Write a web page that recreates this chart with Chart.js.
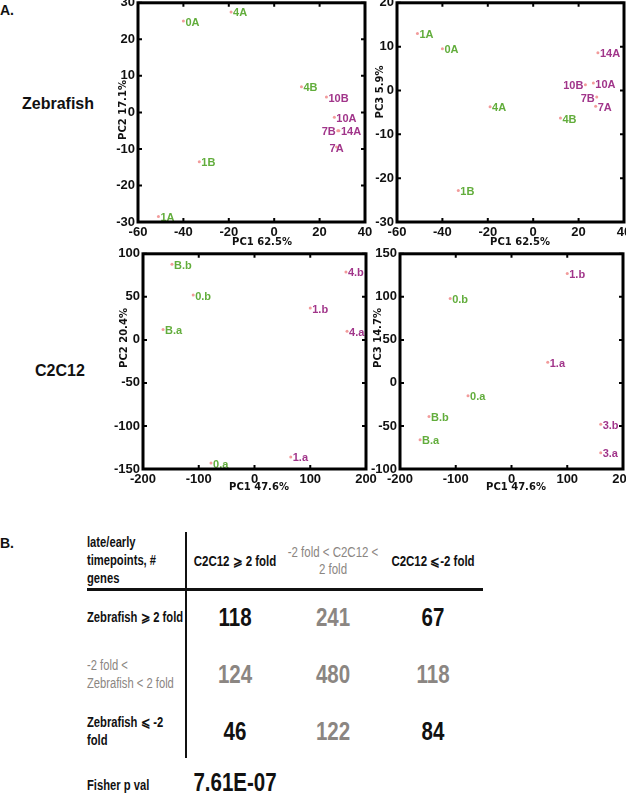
<!DOCTYPE html>
<html>
<head>
<meta charset="utf-8">
<script src="https://cdn.jsdelivr.net/npm/chart.js@4.4.0/dist/chart.umd.min.js"></script>
<style>
  body { margin: 0; width: 626px; height: 794px; position: relative; overflow: hidden; background: #fff; }
  canvas.pca { position: absolute; }
  .side { position: absolute; font: bold 16px "Liberation Sans", Arial, sans-serif; color: #111; white-space: nowrap; }
  .panel { position: absolute; font: bold 14px "Liberation Sans", Arial, sans-serif; color: #111; }
  /* no narrow face installed, so squeeze Liberation Sans to look like Arial Narrow */
  .tbl { position: absolute; font-family: "Liberation Sans", Arial, sans-serif;
         font-weight: bold; color: #111; white-space: pre; line-height: 18px; }
  .lbl { font-size: 14px; transform-origin: 0 50%; transform: translateY(-50%) scaleX(0.8); }
  .head { font-size: 14px; line-height: 17px; text-align: center; transform: translate(-50%, -50%) scaleX(0.82); }
  .num { font-size: 25px; text-align: center; line-height: 28px; transform: translate(-50%, -50%) scaleX(0.82); }
  .grey { color: #8b8682; }
  .thin { font-weight: normal; }
  .rule { position: absolute; background: #111; }
</style>
</head>
<body>
<div class="panel" style="left:0;top:2px">A.</div>
<div class="panel" style="left:0;top:535px">B.</div>
<div class="side" style="left:22px;top:95px">Zebrafish</div>
<div class="side" style="left:35px;top:362px">C2C12</div>
<div id="table"></div>
<script>
// ---- PCA sample coordinates ----
const zfSamples = ['0A', '1A', '1B', '4A', '4B', '7A', '7B', '10A', '10B', '14A'];
const zfLate    = [false, false, false, false, false, true, true, true, true, true];
const zfPC1 = [-40, -51, -33, -19, 12, 27.5, 28, 26.5, 23, 28.5];
const zfPC2 = [25, -28.5, -13.5, 27.5, 7, -9.5, -5, -1.3, 4.2, -5];
const zfPC3 = [9.5, 13, -22.8, -3.7, -6.3, -3.6, -1.5, 1.7, 1.3, 8.6];

const c2Samples = ['B.a', 'B.b', '0.a', '0.b', '1.a', '1.b', '3.a', '3.b', '4.a', '4.b'];
const c2Late    = [false, false, false, false, true, true, true, true, true, true];
const c2PC1 = [-164, -148, -78, -110, 65, 100, 160, 160, 166, 164];
const c2PC2 = [12, 88, -143, 52, -136, 37, null, null, 10, 79];
const c2PC3 = [-66, -39, -15, 98, 24, 127, -81, -48, null, null];

// tick labels
const zfPC1Ticks = [-60, -40, -20, 0, 20, 40];
const zfPC2Ticks = [-30, -20, -10, 0, 10, 20, 30];
const zfPC3Ticks = [-30, -20, -10, 0, 10, 20];
const c2PC1Ticks = [-200, -100, 0, 100, 200];
const c2PC2Ticks = [-150, -100, -50, 0, 50, 100];
const c2PC3Ticks = [-100, -50, 0, 50, 100, 150];

// ---- panel B table ----
const colHeads = ['C2C12 \u2A7E 2 fold', '-2 fold < C2C12 <\n2 fold', 'C2C12 \u2A7D-2 fold'];
const rowHeads = ['Zebrafish \u2A7E 2 fold', '-2 fold <\nZebrafish < 2 fold', 'Zebrafish \u2A7D -2\nfold'];
const geneCounts = [
    [118, 241, 67],
    [124, 480, 118],
    [46, 122, 84]
];
const cornerHead = 'late/early\ntimepoints, #\ngenes';
const fisherLabel = 'Fisher p val';
const fisherP = '7.61E-07';

const GREEN = '#62ad3c';
const PURPLE = '#a1358a';
const MARK = '#f29b9b';

// draws the MATLAB-like box with inward ticks on all four sides
const boxTicks = {
    id: 'boxTicks',
    afterDraw(chart) {
        const { ctx, chartArea: a, scales: { x, y } } = chart;
        ctx.save();
        ctx.strokeStyle = '#000';
        ctx.lineWidth = 2;
        ctx.beginPath();
        x.ticks.forEach(t => {
            const px = x.getPixelForValue(t.value);
            ctx.moveTo(px, a.bottom); ctx.lineTo(px, a.bottom - 4);
            ctx.moveTo(px, a.top); ctx.lineTo(px, a.top + 4);
        });
        y.ticks.forEach(t => {
            const py = y.getPixelForValue(t.value);
            ctx.moveTo(a.left, py); ctx.lineTo(a.left + 4, py);
            ctx.moveTo(a.right, py); ctx.lineTo(a.right - 4, py);
        });
        ctx.stroke();
        ctx.lineWidth = 3;
        ctx.strokeRect(a.left, a.top, a.right - a.left, a.bottom - a.top);
        ctx.restore();
    }
};

// sample names next to each point
const sampleLabels = {
    id: 'sampleLabels',
    afterDatasetsDraw(chart, args, opts) {
        const ctx = chart.ctx;
        const meta = chart.getDatasetMeta(0);
        const ds = chart.data.datasets[0];
        ctx.save();
        ctx.font = 'bold 11px "Liberation Sans", Arial, sans-serif';
        ctx.textBaseline = 'middle';
        meta.data.forEach((pt, i) => {
            const name = ds.data[i].name;
            const where = (opts.anchor && opts.anchor[name]) || 'right';
            ctx.fillStyle = ds.data[i].late ? PURPLE : GREEN;
            let tx = pt.x + 2;
            ctx.textAlign = 'left';
            if (where === 'left') { tx = pt.x - 2; ctx.textAlign = 'right'; }
            if (where === 'center') { tx = pt.x; ctx.textAlign = 'center'; }
            ctx.fillText(name, tx, pt.y + 1.5);
        });
        ctx.restore();
    }
};

// axis titles placed where MATLAB put them
const pcTitles = {
    id: 'pcTitles',
    afterDraw(chart, args, opts) {
        const ctx = chart.ctx;
        ctx.save();
        ctx.fillStyle = '#111';
        ctx.font = 'bold 10px "DejaVu Sans", sans-serif';
        ctx.textAlign = 'center';
        ctx.textBaseline = 'middle';
        ctx.fillText(opts.xText, opts.xAt[0], opts.xAt[1]);
        ctx.translate(opts.yAt[0], opts.yAt[1]);
        ctx.rotate(-Math.PI / 2);
        ctx.fillText(opts.yText, 0, 0);
        ctx.restore();
    }
};

function pcaPlot(box, names, late, xs, ys, xTicks, yTicks, titles, anchor) {
    const padL = 45, padT = 10, padR = 14, padB = 32;
    const canvas = document.createElement('canvas');
    canvas.className = 'pca';
    canvas.width = box.R - box.L + padL + padR;
    canvas.height = box.B - box.T + padT + padB;
    const left = box.L - padL, top = box.T - padT;
    canvas.style.left = left + 'px';
    canvas.style.top = top + 'px';
    document.body.appendChild(canvas);

    const points = [];
    names.forEach((n, i) => {
        if (ys[i] === null) return;
        points.push({ x: xs[i], y: ys[i], name: n, late: late[i] });
    });

    const tickFont = { family: '"Liberation Sans", Arial, sans-serif', size: 13, weight: 'bold' };
    const fixTicks = arr => scale => { scale.ticks = arr.map(v => ({ value: v })); };

    return new Chart(canvas.getContext('2d'), {
        type: 'scatter',
        data: {
            datasets: [{
                data: points,
                pointRadius: 1.5,
                pointBackgroundColor: MARK,
                pointBorderWidth: 0,
                clip: false
            }]
        },
        options: {
            responsive: false,
            animation: false,
            events: [],
            layout: { padding: { top: padT, right: padR, bottom: 12, left: 0 } },
            plugins: {
                legend: { display: false },
                tooltip: { enabled: false },
                sampleLabels: { anchor: anchor },
                pcTitles: {
                    xText: titles.x, yText: titles.y,
                    xAt: [titles.xAt[0] - left, titles.xAt[1] - top],
                    yAt: [titles.yAt[0] - left, titles.yAt[1] - top]
                }
            },
            scales: {
                x: {
                    type: 'linear',
                    min: xTicks[0], max: xTicks[xTicks.length - 1],
                    afterBuildTicks: fixTicks(xTicks),
                    afterFit: s => { s.height = 20; },
                    grid: { display: false, drawTicks: false },
                    border: { display: false },
                    ticks: { font: tickFont, color: '#111', padding: 3, maxRotation: 0, autoSkip: false }
                },
                y: {
                    type: 'linear',
                    min: yTicks[0], max: yTicks[yTicks.length - 1],
                    afterBuildTicks: fixTicks(yTicks),
                    afterFit: s => { s.width = padL; },
                    grid: { display: false, drawTicks: false },
                    border: { display: false },
                    ticks: { font: tickFont, color: '#111', padding: 3, autoSkip: false }
                }
            }
        },
        plugins: [boxTicks, sampleLabels, pcTitles]
    });
}

pcaPlot({ L: 138, T: 2, R: 365, B: 222 }, zfSamples, zfLate, zfPC1, zfPC2, zfPC1Ticks, zfPC2Ticks,
    { x: 'PC1 62.5%', y: 'PC2 17.1%', xAt: [262, 242], yAt: [123, 110] },
    { '7B': 'left', '7A': 'center' });
pcaPlot({ L: 397, T: 2, R: 624, B: 222 }, zfSamples, zfLate, zfPC1, zfPC3, zfPC1Ticks, zfPC3Ticks,
    { x: 'PC1 62.5%', y: 'PC3 5.9%', xAt: [520, 242], yAt: [380, 92] },
    { '10B': 'left', '7B': 'left' });
pcaPlot({ L: 143, T: 253, R: 366, B: 469 }, c2Samples, c2Late, c2PC1, c2PC2, c2PC1Ticks, c2PC2Ticks,
    { x: 'PC1 47.6%', y: 'PC2 20.4%', xAt: [259, 487], yAt: [124, 338] }, {});
pcaPlot({ L: 400, T: 253, R: 623, B: 469 }, c2Samples, c2Late, c2PC1, c2PC3, c2PC1Ticks, c2PC3Ticks,
    { x: 'PC1 47.6%', y: 'PC3 14.7%', xAt: [516, 487], yAt: [378, 338] }, {});

// ---- build the table of panel B ----
const table = document.getElementById('table');
const colX = [235, 333, 433];
const rowY = [617, 674, 731];
const labelX = 87;

function addDiv(cls, text, x, y) {
    const d = document.createElement('div');
    d.className = 'tbl ' + cls;
    d.textContent = text;
    d.style.left = x + 'px';
    d.style.top = y + 'px';
    table.appendChild(d);
    return d;
}

addDiv('lbl', cornerHead, labelX, 560);
colHeads.forEach((h, j) => addDiv('head' + (j === 1 ? ' grey thin' : ''), h, colX[j], 561));
rowHeads.forEach((h, i) => addDiv('lbl' + (i === 1 ? ' grey thin' : ''), h, labelX, rowY[i]));
geneCounts.forEach((row, i) => row.forEach((v, j) => {
    const grey = i === 1 || j === 1;
    addDiv('num' + (grey ? ' grey' : ''), String(v), colX[j], rowY[i]);
}));
addDiv('lbl', fisherLabel, labelX, 785);
addDiv('num', fisherP, 235, 782);

const vline = document.createElement('div');
vline.className = 'rule';
Object.assign(vline.style, { left: '185px', top: '532px', width: '2px', height: '226px' });
table.appendChild(vline);
const hline = document.createElement('div');
hline.className = 'rule';
Object.assign(hline.style, { left: '87px', top: '588px', width: '396px', height: '3px' });
table.appendChild(hline);
</script>
</body>
</html>
